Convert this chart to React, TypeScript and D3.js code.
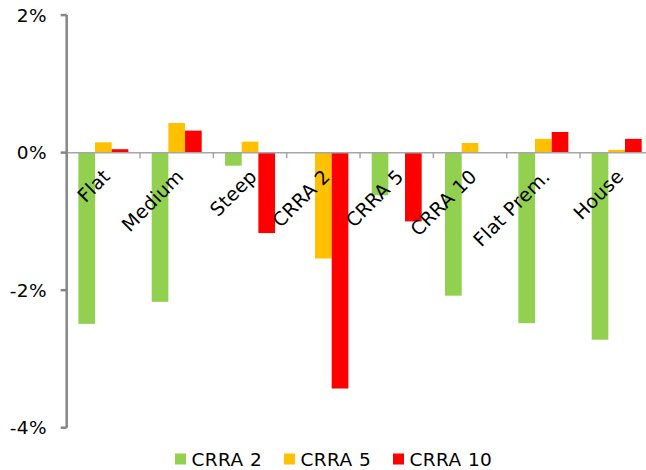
import React from "react";
import * as d3 from "d3";

const categories = ["Flat", "Medium", "Steep", "CRRA 2", "CRRA 5", "CRRA 10", "Flat Prem.", "House"];
const seriesNames = ["CRRA 2", "CRRA 5", "CRRA 10"];
const crra2 = [-2.49, -2.17, -0.19, 0, -0.62, -2.08, -2.48, -2.72];
const crra5 = [0.15, 0.43, 0.16, -1.54, 0, 0.14, 0.2, 0.04];
const crra10 = [0.05, 0.32, -1.17, -3.43, -1.0, 0, 0.3, 0.2];
const yTicks = [2, 0, -2, -4];
const colors = ["#92D050", "#FFC000", "#FF0000"];

const W = 646;
const H = 470;
const FONT = "'DejaVu Sans', Verdana, sans-serif";

export default function App() {
  const series = [crra2, crra5, crra10];
  const x0 = d3.scaleBand<string>().domain(categories).range([66.7, 66.7 + 8 * 73.33]).paddingInner(0).paddingOuter(0);
  const x1 = d3.scaleBand<string>().domain(seriesNames).range([0, x0.bandwidth()]).paddingInner(0).paddingOuter(0.7);
  const y = d3.scaleLinear().domain([-4, 2]).range([427.7, 15.1]);
  const axisX = 66.7;
  const zeroY = y(0);

  return (
    <svg width={W} height={H} style={{ position: "absolute", left: 0, top: 0, background: "#fff" }}>
      {/* bars */}
      {categories.map((c, i) => (
        <g key={c} transform={`translate(${x0(c)},0)`}>
          {series.map((s, j) => {
            const v = s[i];
            const top = y(Math.max(0, v));
            const bot = y(Math.min(0, v));
            return (
              <rect
                key={j}
                x={x1(seriesNames[j])}
                y={top}
                width={x1.bandwidth()}
                height={Math.max(0, bot - top)}
                fill={colors[j]}
              />
            );
          })}
        </g>
      ))}

      {/* zero line with category ticks */}
      <line x1={axisX} x2={W} y1={zeroY} y2={zeroY} stroke="#A6A6A6" strokeWidth={1.5} />
      {categories.map((c, i) =>
        i === 0 ? null : (
          <line key={c} x1={x0(c)} x2={x0(c)} y1={zeroY} y2={zeroY + 5.5} stroke="#A6A6A6" strokeWidth={1.5} />
        )
      )}

      {/* value axis */}
      <line x1={axisX} x2={axisX} y1={y(2)} y2={y(-4)} stroke="#868686" strokeWidth={2.5} />
      {yTicks.map((t) => (
        <g key={t}>
          <line x1={axisX - 6} x2={axisX} y1={y(t)} y2={y(t)} stroke="#868686" strokeWidth={2.5} />
          <text
            x={47}
            y={y(t)}
            dy="0.35em"
            textAnchor="end"
            fontFamily={FONT}
            fontSize={18.5}
            letterSpacing={0.4}
            fill="#000"
          >
            {`${t}%`}
          </text>
        </g>
      ))}

      {/* category labels */}
      {categories.map((c) => {
        const cx = (x0(c) as number) + x0.bandwidth() / 2 + 8;
        const cy = zeroY + 25;
        return (
          <text
            key={c}
            transform={`translate(${cx},${cy}) rotate(-45)`}
            textAnchor="end"
            fontFamily={FONT}
            fontSize={19}
            letterSpacing={0.3}
            fill="#000"
          >
            {c}
          </text>
        );
      })}

      {/* legend */}
      {seriesNames.map((n, j) => {
        const lx = [175, 284, 393][j];
        return (
          <g key={n}>
            <rect x={lx} y={453.5} width={11} height={11} fill={colors[j]} />
            <text x={lx + 16.5} y={466} fontFamily={FONT} fontSize={18.5} letterSpacing={0.4} fill="#000">
              {n}
            </text>
          </g>
        );
      })}
    </svg>
  );
}
